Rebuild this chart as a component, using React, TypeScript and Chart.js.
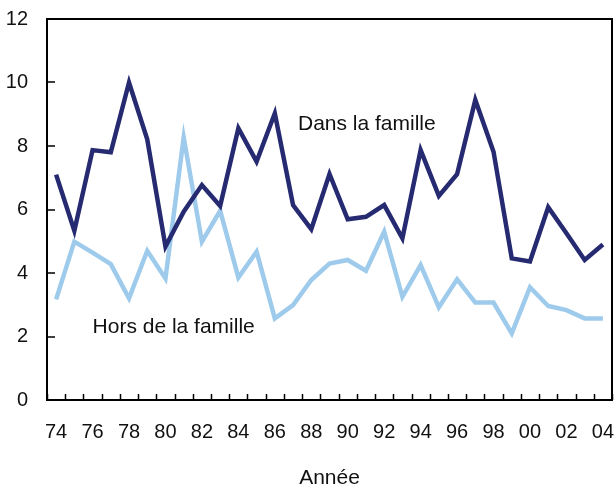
import React, { useEffect, useRef } from 'react';
import { Chart, registerables } from 'chart.js';

Chart.register(...registerables);

const years = ['74', '75', '76', '77', '78', '79', '80', '81', '82', '83', '84', '85', '86', '87', '88', '89', '90', '91', '92', '93', '94', '95', '96', '97', '98', '99', '00', '01', '02', '03', '04'];
const dansLaFamille = [7.1, 5.33, 7.87, 7.8, 10.0, 8.21, 4.83, 5.93, 6.77, 6.11, 8.56, 7.51, 9.03, 6.14, 5.38, 7.12, 5.69, 5.77, 6.14, 5.09, 7.87, 6.43, 7.11, 9.45, 7.82, 4.46, 4.36, 6.07, 5.25, 4.41, 4.9];
const horsDeLaFamille = [3.17, 4.99, 4.64, 4.28, 3.2, 4.7, 3.83, 8.27, 4.99, 5.96, 3.86, 4.67, 2.57, 2.99, 3.78, 4.3, 4.41, 4.07, 5.3, 3.25, 4.25, 2.92, 3.8, 3.07, 3.07, 2.1, 3.55, 2.96, 2.83, 2.57, 2.57];
const yMin = 0;
const yMax = 12;
const yStep = 2;
const seriesNames = ['Dans la famille', 'Hors de la famille'];
const xTitle = 'Année';

// label anchors in data space: [category index, value]
const labelAnchors: [number, number][] = [
  [13.27, 8.5],
  [2.0, 2.1],
];

const FONT = '"Liberation Sans", Arial, Helvetica, sans-serif';
const DARK = '#262a70';
const LIGHT = '#9ecbec';

const framePlugin = {
  id: 'framePlugin',
  afterDatasetsDraw(chart: any) {
    const { ctx, chartArea, scales } = chart;
    const { left, right, top, bottom } = chartArea;
    const x = scales.x;
    const y = scales.y;
    ctx.save();
    ctx.strokeStyle = '#000';
    ctx.lineWidth = 2;
    ctx.beginPath();
    ctx.moveTo(left, top);
    ctx.lineTo(right, top);
    ctx.lineTo(right, bottom);
    ctx.lineTo(left, bottom);
    ctx.closePath();
    ctx.stroke();
    ctx.lineWidth = 1.5;
    ctx.beginPath();
    for (let v = yMin; v <= yMax; v += yStep) {
      const py = Math.round(y.getPixelForValue(v));
      ctx.moveTo(left, py);
      ctx.lineTo(left + 8, py);
    }
    for (let i = 0; i <= years.length; i++) {
      const px = Math.round(x.getPixelForValue(i - 0.5)) + 0.5;
      ctx.moveTo(px, bottom);
      ctx.lineTo(px, bottom - 6);
    }
    ctx.stroke();
    ctx.fillStyle = '#111';
    ctx.font = `21px ${FONT}`;
    ctx.textBaseline = 'alphabetic';
    ctx.textAlign = 'left';
    labelAnchors.forEach(([i, v], k) => {
      ctx.fillText(seriesNames[k], x.getPixelForValue(i), y.getPixelForValue(v));
    });
    ctx.restore();
  },
};

export default function App() {
  const ref = useRef<HTMLCanvasElement>(null);
  useEffect(() => {
    if (!ref.current) return;
    const chart = new Chart(ref.current, {
      type: 'line',
      data: {
        labels: years,
        datasets: [
          {
            label: seriesNames[0],
            data: dansLaFamille,
            borderColor: DARK,
            backgroundColor: DARK,
            borderWidth: 4.5,
            pointRadius: 0,
            tension: 0,
            borderCapStyle: 'butt',
            borderJoinStyle: 'miter',
          },
          {
            label: seriesNames[1],
            data: horsDeLaFamille,
            borderColor: LIGHT,
            backgroundColor: LIGHT,
            borderWidth: 4.5,
            pointRadius: 0,
            tension: 0,
            borderCapStyle: 'butt',
            borderJoinStyle: 'miter',
          },
        ],
      },
      options: {
        animation: false,
        responsive: true,
        maintainAspectRatio: false,
        layout: { padding: { left: 0, right: 4, top: 19, bottom: 0 } },
        plugins: {
          legend: { display: false },
          tooltip: { enabled: false },
        },
        scales: {
          x: {
            type: 'category',
            offset: true,
            grid: { display: false, drawTicks: false, offset: true },
            border: { display: false },
            ticks: {
              autoSkip: false,
              maxRotation: 0,
              minRotation: 0,
              padding: 20,
              color: '#111',
              font: { family: FONT, size: 20 },
              callback: (_v: any, i: number) => (i % 2 === 0 ? years[i] : ''),
            },
            title: {
              display: true,
              text: xTitle,
              color: '#111',
              font: { family: FONT, size: 21, lineHeight: 0.85 },
              padding: { top: 0, bottom: 0 },
            },
            afterFit: (s: any) => {
              s.height = 87;
              s.paddingLeft = 0;
              s.paddingRight = 0;
            },
          },
          y: {
            min: yMin,
            max: yMax,
            grid: { display: false, drawTicks: false },
            border: { display: false },
            ticks: {
              stepSize: yStep,
              padding: 19,
              color: '#111',
              font: { family: FONT, size: 20 },
            },
            afterFit: (s: any) => {
              s.width = 47;
              s.paddingTop = 0;
              s.paddingBottom = 0;
            },
          },
        },
      },
      plugins: [framePlugin],
    });
    return () => chart.destroy();
  }, []);
  return (
    <div style={{ position: 'fixed', left: 0, top: 0, width: 616, height: 487, background: '#fff' }}>
      <canvas ref={ref} />
    </div>
  );
}
